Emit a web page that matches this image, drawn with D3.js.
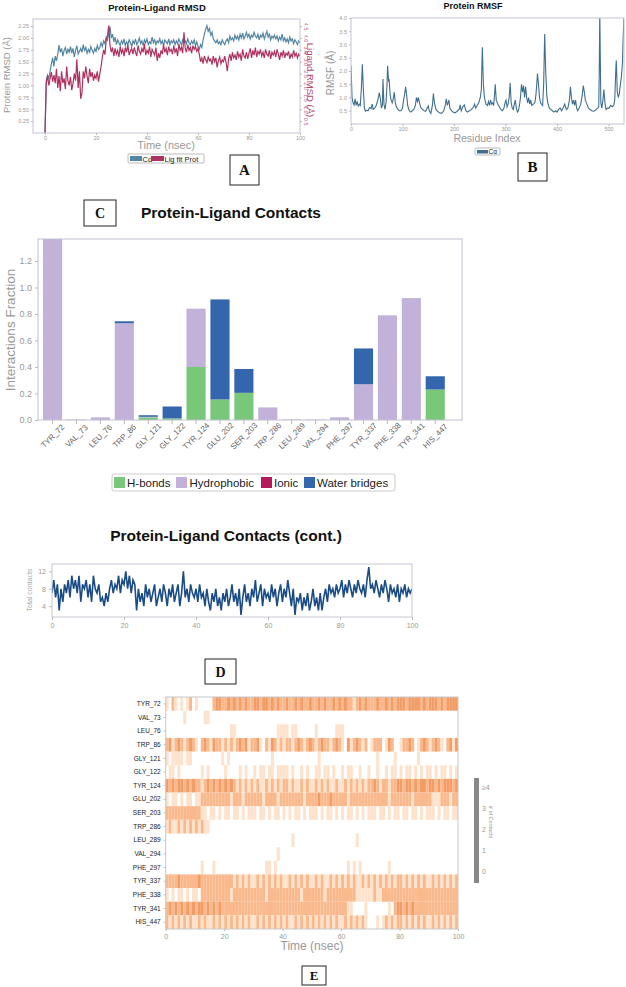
<!DOCTYPE html>
<html><head><meta charset="utf-8">
<script src="https://cdn.jsdelivr.net/npm/d3@7"></script>
<style>body{margin:0;background:#fff}svg{display:block}</style>
</head><body><svg id="c" width="626" height="987" font-family="'Liberation Sans',Arial,sans-serif"></svg>
<script>
// ---------- Panel A: Protein-Ligand RMSD (0.5 ns steps, 0..100 ns) ----------
const rmsdTicksX = [0,20,40,60,80,100];
const rmsdTicksLeft = [0.25,0.5,0.75,1.0,1.25,1.5,1.75,2.0,2.25];
const rmsdTicksRight = [0.5,1.0,1.5,2.0,2.5,3.0,3.5,4.0,4.5];
const calphaRmsd = [
0.00,1.10,1.22,1.15,1.30,1.45,1.58,1.40,1.62,1.52,
1.66,1.85,1.70,1.78,1.62,1.74,1.80,1.66,1.76,1.70,
1.82,1.68,1.78,1.60,1.74,1.84,1.66,1.72,1.78,1.70,
1.86,1.74,1.80,1.68,1.76,1.70,1.82,1.74,1.68,1.78,
1.72,1.84,1.76,1.80,1.90,1.82,1.94,1.88,2.02,1.96,
2.10,2.24,2.00,2.08,1.92,2.02,1.86,1.96,1.90,1.84,
1.94,1.88,1.98,1.84,1.92,1.86,1.96,1.90,1.82,1.94,
1.88,1.98,1.86,1.92,2.00,1.88,1.94,1.84,1.96,1.90,
1.98,1.86,1.92,1.88,2.02,1.90,1.96,1.86,1.94,1.90,
1.98,1.88,1.94,1.84,1.96,1.92,1.88,1.98,1.86,1.94,
1.90,1.96,1.86,1.94,1.88,1.98,1.92,1.86,1.96,1.90,
1.94,1.88,1.98,1.90,1.86,1.94,1.88,1.96,1.84,1.92,
1.82,1.76,1.86,1.80,1.96,2.08,2.18,2.26,2.14,2.20,
2.06,2.12,1.98,1.94,1.90,1.96,1.88,1.92,1.86,1.96,
1.90,1.86,1.94,1.98,1.90,2.04,1.96,2.00,1.94,2.06,
1.98,2.04,1.96,2.08,2.00,2.10,1.98,2.04,2.12,2.02,
2.08,1.98,2.06,2.02,2.12,2.04,2.00,2.08,1.96,2.06,
2.02,2.10,1.98,2.06,2.14,2.02,2.08,1.96,2.04,2.00,
2.06,1.98,2.04,1.94,2.02,1.96,2.08,1.94,2.00,1.92,
1.98,1.90,2.02,1.94,1.98,1.88,1.96,1.92,1.86,1.94,1.90];
const ligandRmsd = [
0.00,2.10,2.40,2.00,2.30,2.56,2.16,2.44,2.10,2.70,
1.90,2.40,1.76,2.60,2.10,2.30,1.84,2.80,2.20,2.00,
2.36,1.80,2.10,2.50,2.20,3.10,1.90,2.60,1.44,1.70,
2.60,2.30,2.80,2.40,2.10,2.70,2.36,2.56,2.20,2.44,
2.30,2.60,2.16,2.50,2.80,3.20,3.50,3.30,3.90,4.10,
4.52,3.70,3.40,3.60,3.24,3.56,3.32,3.48,3.20,3.64,
3.36,3.52,3.24,3.60,3.40,3.72,3.28,3.44,3.56,3.32,
3.60,3.40,3.24,3.68,3.44,3.32,3.56,3.40,3.76,3.28,
3.48,3.36,3.64,3.20,3.52,3.40,3.28,3.60,3.04,3.36,
3.16,3.48,3.32,3.72,3.40,3.56,3.28,3.64,3.44,3.52,
3.32,3.68,3.40,3.56,3.24,3.76,3.48,3.60,3.36,4.24,
3.56,3.40,3.72,3.48,3.60,3.36,3.68,3.52,3.64,3.44,
3.56,3.32,3.00,3.16,2.92,3.24,3.08,2.96,3.20,3.04,
3.12,2.88,3.24,3.00,3.16,2.76,3.04,3.20,2.92,3.08,
3.00,3.24,2.96,2.60,3.12,3.32,3.04,3.40,3.16,3.28,
3.08,3.44,3.20,3.32,3.04,3.52,3.24,3.16,3.40,3.12,
3.36,3.56,3.16,3.48,3.28,3.60,3.20,3.44,3.32,3.52,
3.24,3.40,3.16,3.52,3.32,3.24,3.48,3.12,3.40,3.28,
3.44,3.20,3.52,3.32,3.08,3.40,3.24,3.48,3.16,3.36,
3.28,3.44,3.12,3.32,3.20,3.48,3.24,3.36,3.16,3.32,3.24];

// ---------- Panel B: Protein RMSF [residue, RMSF] ----------
const rmsfTicksX = [0,100,200,300,400,500];
const rmsfTicksY = [0.5,1.0,1.5,2.0,2.5,3.0,3.5,4.0];
const rmsfPoints = [[0,2.2],[2,1.0],[4,0.8],[6,0.72],[8,0.95],[10,0.7],[12,0.85],[14,0.68],[16,0.75],[18,0.7],[20,1.3],[22,2.25],[24,1.3],[26,0.6],[28,0.48],[30,0.52],[33,0.5],[36,0.62],[39,0.58],[41,0.75],[43,0.55],[46,0.6],[49,0.7],[52,0.9],[55,1.18],[57,0.95],[59,0.6],[61,0.7],[62,1.7],[64,0.75],[66,0.55],[68,0.8],[70,1.5],[71,2.2],[73,1.6],[74,1.7],[76,1.1],[78,0.9],[80,0.8],[82,0.95],[84,1.2],[86,0.8],[88,0.65],[91,0.55],[94,0.5],[97,0.5],[100,0.6],[102,0.9],[104,1.1],[106,1.4],[108,1.1],[110,0.7],[113,0.5],[116,0.45],[119,0.5],[122,0.55],[125,0.7],[127,1.0],[129,0.85],[131,1.0],[133,0.8],[136,0.6],[139,0.55],[142,0.5],[145,0.48],[148,0.6],[150,0.68],[152,0.5],[155,0.4],[158,0.7],[160,1.15],[162,0.8],[165,0.55],[168,0.48],[172,0.42],[176,0.4],[180,0.5],[183,0.7],[185,0.95],[187,0.7],[190,0.9],[192,0.6],[195,0.5],[198,0.45],[202,0.42],[206,0.48],[210,0.55],[212,0.72],[214,0.5],[217,0.65],[220,0.72],[223,0.5],[226,0.45],[230,0.5],[234,0.55],[238,0.65],[240,0.75],[242,0.6],[245,0.7],[248,0.8],[251,1.0],[253,1.3],[255,2.9],[257,1.5],[259,1.0],[262,0.75],[265,0.7],[267,0.85],[269,0.7],[271,0.9],[273,0.75],[275,0.8],[277,0.7],[279,1.2],[280,1.5],[282,0.9],[285,0.75],[288,0.65],[291,0.55],[294,0.5],[297,0.6],[299,0.8],[301,0.9],[303,0.65],[305,0.75],[307,1.0],[309,1.55],[311,0.8],[313,0.6],[315,0.55],[317,0.75],[319,0.9],[321,0.6],[323,0.45],[325,0.5],[327,0.7],[329,1.0],[331,1.5],[333,1.2],[335,1.45],[337,1.0],[339,1.4],[341,1.0],[343,0.8],[345,1.0],[347,0.75],[349,0.9],[351,0.7],[354,0.75],[357,0.8],[359,1.1],[361,1.6],[362,1.9],[364,1.5],[366,1.0],[368,0.8],[370,0.75],[372,0.7],[374,1.5],[376,3.4],[378,2.0],[380,1.1],[382,0.8],[385,0.6],[388,0.55],[391,0.5],[394,0.45],[397,0.5],[400,0.45],[403,0.55],[406,0.6],[409,0.5],[412,0.62],[415,0.75],[418,0.55],[421,0.6],[424,0.9],[426,1.4],[428,1.0],[430,0.75],[432,0.9],[434,0.7],[436,0.9],[438,0.6],[440,0.5],[443,0.6],[446,0.75],[449,1.1],[451,1.45],[453,1.2],[455,0.9],[458,0.75],[461,0.6],[464,0.55],[467,0.5],[470,0.48],[473,0.5],[476,0.55],[479,0.6],[481,0.65],[482,2.0],[483,4.3],[484,2.5],[485,0.8],[487,0.6],[489,0.9],[491,1.3],[493,0.8],[495,0.55],[498,0.6],[501,0.6],[504,0.7],[507,0.65],[510,0.7],[512,0.9],[514,2.0],[515,2.4],[517,1.2],[519,1.0],[521,1.15],[523,1.5],[525,1.8],[527,2.3],[528,3.0],[529,3.6],[530,4.3]];

// ---------- Panel C: Protein-Ligand Contacts ----------
const contactResidues = ['TYR_72','VAL_73','LEU_76','TRP_86','GLY_121','GLY_122','TYR_124','GLU_202','SER_203','TRP_286','LEU_289','VAL_294','PHE_297','TYR_337','PHE_338','TYR_341','HIS_447'];
const hBonds       = [0,0,0,0,0.02,0.012,0.40,0.155,0.205,0,0,0,0,0,0,0,0.23];
const hydrophobic  = [1.40,0.004,0.02,0.73,0.004,0,0.44,0,0,0.095,0.004,0.003,0.02,0.27,0.79,0.92,0];
const ionic        = [0,0,0,0,0,0,0,0,0,0,0,0,0,0,0,0,0];
const waterBridges = [0,0,0,0.015,0.012,0.09,0,0.755,0.18,0,0,0,0,0.27,0,0,0.10];
const fractionTicks = [0,0.2,0.4,0.6,0.8,1.0,1.2];
const contactTypes = ['H-bonds','Hydrophobic','Ionic','Water bridges'];
const contactColors = ['#79c879','#c2b1d9','#b5195b','#3466ad'];

// ---------- Panel D: total contacts (0.5 ns steps) ----------
const totalContacts = [
7,10,6,9,3,8,5,9,7,10, 6,11,8,10,7,11,5,9,8,10, 6,9,5,11,8,7,9,5,6,4, 7,5,8,10,7,9,8,11,7,10,
9,12,8,11,7,10,9,3,8,5, 7,4,9,6,8,5,7,9,4,6, 8,5,9,7,4,8,6,9,5,7, 9,4,7,12,6,8,5,9,7,6,
8,5,9,6,7,4,8,5,3,7, 5,8,4,6,3,7,5,8,4,6, 9,5,7,4,8,2,6,9,5,7, 4,8,6,10,5,7,9,4,8,6,
7,5,9,6,8,4,7,9,5,8, 6,10,7,4,8,2,6,5,7,3, 6,4,7,3,5,8,4,6,3,7, 3,6,8,5,9,7,8,6,9,7,
8,10,6,9,7,10,8,6,9,7, 10,8,7,9,6,10,13,8,9,7, 10,8,6,9,7,10,8,5,9,7, 8,6,9,5,8,7,9,6,8,7,8];
const contactTicksY = [4,8,12];
const timeTicks = [0,20,40,60,80,100];

// ---------- Panel E: contacts per residue per ns bin (0..4) ----------
const timelineResidues = ['TYR_72','VAL_73','LEU_76','TRP_86','GLY_121','GLY_122','TYR_124','GLU_202','SER_203','TRP_286','LEU_289','VAL_294','PHE_297','TYR_337','PHE_338','TYR_341','HIS_447'];
const timelineRows = [
"1021010120 1000002332 2323232322 3323323232 2322323223 2232322323 2322123232 2232232323 3323333232 3332323333",
"0000001000 0001100000 0000000000 0000000000 0000000000 0000000000 0000000000 0000000000 0000000000 0000000000",
"0000000000 0000000000 0011000000 0000000011 1101100000 0100000011 1000000000 0000000000 0000000000 0000000000",
"2312321232 1023213221 2121232312 2310213212 1221232123 2123221232 1031232120 1222013200 1223201232 1232102313",
"1011110110 0000000001 0100000000 0000001000 0000000000 0010000000 0000000000 0010000010 0000001000 0000000000",
"0110100000 0010100000 1000010100 1011011011 1101001010 0110110100 1011001001 0010010110 1011010101 1010110101",
"3232332323 2212323232 3232121212 1211212121 2212112121 1212121121 1212121212 2321221223 3233232332 3323233323",
"1011010110 1122222222 2212221222 2221222212 2222222122 2232223222 2212222222 2222221222 2222122222 2111222122",
"2222222222 2211011010 1101101011 1011010110 1010110101 1101011010 1011010101 1101101011 0110110101 1101011011",
"1211212121 2121100000 0000000000 0000000000 0000000000 0000000000 0000000000 0000000000 0000000000 0000000000",
"0000000000 0000000000 0000000000 0000000000 0001000000 0000000000 0000010000 0000000000 0000000000 0000000000",
"0000000000 0000000000 0000000000 0000000010 0000000000 0000000000 0000000000 0000000000 0000000000 0000000000",
"0000000000 0010001000 0000000000 0000110100 0000000000 0000000000 0010101000 0000001000 0000000000 0000000000",
"2222322222 2322222222 2221212121 1212121212 1121212121 1212112121 2121211212 1212121212 2121212121 1212121212",
"1010110101 1022222222 2212222222 2222122222 2222221222 2222122222 2222211111 1211222222 2222222222 2222222222",
"2323232323 2332323232 2222222222 2222222222 2222222222 2222222222 2211000010 0000001023 3232322222 2222222222",
"2121212121 1212112121 2121212121 1212121212 1211212121 2121212121 1212121210 0010121212 2121212121 1212121212"];
const heatColors = ['#ffffff','#fee2cb','#f9b98c','#f39c65','#e8743b'];
const colorbarLabels = ['0','1','2','3','≥4'];

// =====================================================================
const svg = d3.select('#c');
svg.append('rect').attr('width',626).attr('height',987).attr('fill','#fff');
function styleAxis(g, fs, col){
  g.selectAll('path').attr('stroke','#bbb');
  g.selectAll('line').attr('stroke','#bbb');
  g.selectAll('text').attr('fill',col||'#999').attr('font-size',fs).attr('font-family',null);
  g.attr('font-family',null).attr('font-size',null);
}
function frame(x0,y0,x1,y1,col){
  svg.append('rect').attr('x',x0).attr('y',y0).attr('width',x1-x0).attr('height',y1-y0)
    .attr('fill','none').attr('stroke',col||'#c4c4d4').attr('stroke-width',1);
}
function box(x,y,w,h,letter,fs){
  svg.append('rect').attr('x',x).attr('y',y).attr('width',w).attr('height',h).attr('fill','#fff').attr('stroke','#222').attr('stroke-width',1);
  svg.append('text').attr('x',x+w/2).attr('y',y+h/2).attr('dy','0.36em').attr('text-anchor','middle')
    .style('font-family',"'Liberation Serif','DejaVu Serif',serif").attr('font-weight','bold').attr('font-size',fs).attr('fill','#111').text(letter);
}
function clip(id,x0,y0,x1,y1){
  svg.append('clipPath').attr('id',id).append('rect').attr('x',x0).attr('y',y0).attr('width',x1-x0).attr('height',y1-y0);
}

// ---------------- Panel A ----------------
{
  const x0=33,x1=300,y0=19,y1=133;
  const x = d3.scaleLinear([-4.7,100],[x0,x1]);
  const y = d3.scaleLinear([0,2.4],[y1,y0]);
  const y2 = d3.scaleLinear([0,4.8],[y1,y0]);
  svg.append('text').attr('x',157).attr('y',11).attr('text-anchor','middle').attr('font-weight','bold').attr('font-size',9.5).attr('fill','#111').text('Protein-Ligand RMSD');
  clip('clipA',x0,y0,x1,y1);
  const tA = i=> i*100/(calphaRmsd.length-1);
  const g = svg.append('g').attr('clip-path','url(#clipA)');
  g.append('path').datum(calphaRmsd).attr('fill','none').attr('stroke','#5486a2').attr('stroke-width',1.2)
    .attr('d',d3.line().x((d,i)=>x(tA(i))).y(d=>y(d)));
  const tL = i=> i*100/(ligandRmsd.length-1);
  g.append('path').datum(ligandRmsd).attr('fill','none').attr('stroke','#ad3260').attr('stroke-width',1.2)
    .attr('d',d3.line().x((d,i)=>x(tL(i))).y(d=>y2(d)));
  frame(x0,y0,x1,y1);
  const ax = svg.append('g').attr('transform',`translate(0,${y1})`).call(d3.axisBottom(x).tickValues(rmsdTicksX).tickSize(2).tickPadding(1).tickFormat(d3.format('d')));
  ax.select('.domain').remove(); styleAxis(ax,5.5);
  const ay = svg.append('g').attr('transform',`translate(${x0},0)`).call(d3.axisLeft(y).tickValues(rmsdTicksLeft).tickSize(2).tickPadding(2).tickFormat(d3.format('.2f')));
  ay.select('.domain').remove(); styleAxis(ay,5.5);
  const ay2 = svg.append('g').attr('transform',`translate(${x1},0)`).call(d3.axisRight(y2).tickValues(rmsdTicksRight).tickSize(2).tickFormat(d3.format('.1f')));
  ay2.select('.domain').remove(); styleAxis(ay2,5.5,'#c0607f');
  ay2.selectAll('text').attr('text-anchor','middle').attr('x',0).attr('dy',0).attr('transform','translate(3.5,0) rotate(90)');
  svg.append('text').attr('transform','translate(10,75) rotate(-90)').attr('text-anchor','middle').attr('font-size',9.5).attr('fill','#999').text('Protein RMSD (Å)');
  svg.append('text').attr('transform','translate(306.5,80) rotate(90)').attr('text-anchor','middle').attr('font-size',9.5).attr('fill','#b2476c').text('Ligand RMSD (Å)');
  svg.append('text').attr('x',166).attr('y',149).attr('text-anchor','middle').attr('font-size',11).attr('fill','#999').text('Time (nsec)');
  // legend
  svg.append('rect').attr('x',128).attr('y',154).attr('width',76).attr('height',9).attr('rx',1).attr('fill','#fff').attr('stroke','#aaa').attr('stroke-width',0.8);
  svg.append('rect').attr('x',130).attr('y',156).attr('width',12).attr('height',5).attr('fill','#5486a2');
  svg.append('text').attr('x',142.5).attr('y',161.5).attr('font-size',7.5).attr('fill','#222').text('Cα');
  svg.append('rect').attr('x',151).attr('y',156).attr('width',13).attr('height',5).attr('fill','#ad3260');
  svg.append('text').attr('x',164.5).attr('y',161.5).attr('font-size',7.5).attr('fill','#222').text('Lig fit Prot');
  box(230,155,29,30,'A',15);
}

// ---------------- Panel B ----------------
{
  const x0=351,x1=624,y0=18,y1=124;
  const x = d3.scaleLinear([0,530],[x0,x1]);
  const y = d3.scaleLinear([0,4],[y1,y0]);
  svg.append('text').attr('x',473).attr('y',8.5).attr('text-anchor','middle').attr('font-weight','bold').attr('font-size',9).attr('fill','#111').text('Protein RMSF');
  clip('clipB',x0,y0,x1,y1);
  svg.append('g').attr('clip-path','url(#clipB)').append('path').datum(rmsfPoints).attr('fill','none').attr('stroke','#3f6f8e').attr('stroke-width',1.1)
    .attr('d',d3.line().x(d=>x(d[0])).y(d=>y(d[1])));
  frame(x0,y0,x1,y1);
  const ax = svg.append('g').attr('transform',`translate(0,${y1})`).call(d3.axisBottom(x).tickValues(rmsfTicksX).tickSize(2).tickPadding(1).tickFormat(d3.format('d')));
  ax.select('.domain').remove(); styleAxis(ax,5.5);
  const ay = svg.append('g').attr('transform',`translate(${x0},0)`).call(d3.axisLeft(y).tickValues(rmsfTicksY).tickSize(2).tickPadding(2).tickFormat(d3.format('.1f')));
  ay.select('.domain').remove(); styleAxis(ay,5.5);
  svg.append('text').attr('transform','translate(334,73) rotate(-90)').attr('text-anchor','middle').attr('font-size',10).attr('fill','#999').text('RMSF (Å)');
  svg.append('text').attr('x',487).attr('y',141.5).attr('text-anchor','middle').attr('font-size',10.5).attr('fill','#999').text('Residue Index');
  svg.append('rect').attr('x',475).attr('y',148).attr('width',25).attr('height',7).attr('rx',1).attr('fill','#fff').attr('stroke','#aaa').attr('stroke-width',0.8);
  svg.append('rect').attr('x',477).attr('y',150).attr('width',11).attr('height',3.5).attr('fill','#3f6f8e');
  svg.append('text').attr('x',488.5).attr('y',154).attr('font-size',6.5).attr('fill','#222').text('Cα');
  box(518,153,29,28,'B',15);
}

// ---------------- Panel C ----------------
{
  const x0=38,x1=462,y0=239,y1=420;
  box(84,200,32,26,'C',14);
  svg.append('text').attr('x',231).attr('y',218).attr('text-anchor','middle').attr('font-weight','bold').attr('font-size',15.5).attr('fill','#111').text('Protein-Ligand Contacts');
  const x = d3.scaleBand(contactResidues,[40.6,447.2]).paddingInner(0.2).paddingOuter(0.1);
  const y = d3.scaleLinear([0,1.366],[y1,y0]);
  const rows = contactResidues.map((r,i)=>({res:r,'H-bonds':hBonds[i],'Hydrophobic':hydrophobic[i],'Ionic':ionic[i],'Water bridges':waterBridges[i]}));
  const stacked = d3.stack().keys(contactTypes)(rows);
  clip('clipC',x0,y0,x1,y1);
  const g = svg.append('g').attr('clip-path','url(#clipC)');
  stacked.forEach((layer,k)=>{
    g.selectAll(null).data(layer).join('rect')
      .attr('x',d=>x(d.data.res)).attr('width',x.bandwidth())
      .attr('y',d=>y(d[1])).attr('height',d=>Math.max(0,y(d[0])-y(d[1])))
      .attr('fill',contactColors[k]);
  });
  frame(x0,y0,x1,y1,'#c0c0d0');
  const ay = svg.append('g').attr('transform',`translate(${x0},0)`).call(d3.axisLeft(y).tickValues(fractionTicks).tickSize(3).tickFormat(d3.format('.1f')));
  ay.select('.domain').remove(); styleAxis(ay,9);
  const ax = svg.append('g').attr('transform',`translate(0,${y1})`).call(d3.axisBottom(x).tickSize(4));
  ax.select('.domain').remove(); styleAxis(ax,8,'#666');
  ax.selectAll('text').attr('text-anchor','middle').attr('dy',0).attr('y',0).attr('transform','translate(2,18) rotate(-45)');
  svg.append('text').attr('transform','translate(15,330) rotate(-90)').attr('text-anchor','middle').attr('font-size',13.5).attr('fill','#999').text('Interactions Fraction');
  // legend
  svg.append('rect').attr('x',112).attr('y',474).attr('width',283).attr('height',17).attr('rx',2).attr('fill','#fff').attr('stroke','#ccc');
  const lx = [114,176,261,304], tx=[127,189.5,274,317];
  contactTypes.forEach((t,i)=>{
    svg.append('rect').attr('x',lx[i]).attr('y',477).attr('width',11).attr('height',11).attr('fill',contactColors[i]);
    svg.append('text').attr('x',tx[i]).attr('y',487).attr('font-size',11.5).attr('fill','#222').text(t);
  });
}

// ---------------- Panel D ----------------
{
  const x0=52,x1=412,y0=564,y1=617;
  svg.append('text').attr('x',226).attr('y',541).attr('text-anchor','middle').attr('font-weight','bold').attr('font-size',15.5).attr('fill','#111').text('Protein-Ligand Contacts (cont.)');
  const x = d3.scaleLinear([0,100],[x0,x1]);
  const y = d3.scaleLinear([1.5,13.7],[y1,y0]);
  clip('clipD',x0,y0,x1,y1);
  const t = i=> i*100/(totalContacts.length-1);
  svg.append('g').attr('clip-path','url(#clipD)').append('path').datum(totalContacts).attr('fill','none').attr('stroke','#1b4c86').attr('stroke-width',1.6)
    .attr('d',d3.line().x((d,i)=>x(t(i))).y(d=>y(d)));
  frame(x0,y0,x1,y1,'#c8c8d4');
  const ax = svg.append('g').attr('transform',`translate(0,${y1})`).call(d3.axisBottom(x).tickValues(timeTicks).tickSize(3).tickFormat(d3.format('d')));
  ax.select('.domain').remove(); styleAxis(ax,7);
  const ay = svg.append('g').attr('transform',`translate(${x0},0)`).call(d3.axisLeft(y).tickValues(contactTicksY).tickSize(3));
  ay.select('.domain').remove(); styleAxis(ay,7);
  svg.append('text').attr('transform','translate(32,590) rotate(-90)').attr('text-anchor','middle').attr('font-size',7).attr('fill','#aaa').text('Total contacts');
  box(205,659,31,25,'D',14);
}

// ---------------- Panel E ----------------
{
  const x0=165.7,x1=458,y0=697,y1=929;
  const x = d3.scaleLinear([0,100],[x0,x1]);
  const y = d3.scaleBand(timelineResidues,[y0,y1]);
  const cells = [];
  timelineRows.forEach((s,r)=>{
    const v = s.replace(/ /g,'');
    for(let i=0;i<v.length;i++){ const c=+v[i]; if(c>0) cells.push({res:timelineResidues[r],i,c,n:v.length}); }
  });
  svg.append('g').selectAll('rect').data(cells).join('rect')
    .attr('x',d=>x(d.i*100/d.n)).attr('width',d=>x((d.i+1)*100/d.n)-x(d.i*100/d.n)+0.05)
    .attr('y',d=>y(d.res)).attr('height',y.bandwidth())
    .attr('fill',d=>heatColors[d.c]);
  frame(x0,y0,x1,y1,'#c8c8c8');
  const ay = svg.append('g').attr('transform',`translate(${x0},0)`).call(d3.axisLeft(y).tickSize(2));
  ay.select('.domain').remove(); styleAxis(ay,6.5,'#222');
  const ax = svg.append('g').attr('transform',`translate(0,${y1})`).call(d3.axisBottom(x).tickValues(timeTicks).tickSize(2).tickFormat(d3.format('d')));
  ax.select('.domain').remove(); styleAxis(ax,7);
  svg.append('text').attr('x',312).attr('y',950).attr('text-anchor','middle').attr('font-size',12).attr('fill','#999').text('Time (nsec)');
  // colorbar
  svg.append('rect').attr('x',474).attr('y',778).attr('width',5).attr('height',105).attr('fill','#888');
  const cy = d3.scaleLinear([0,4],[872,788]);
  colorbarLabels.forEach((l,i)=>{
    svg.append('text').attr('x',482).attr('y',cy(i)).attr('dy','0.35em').attr('font-size',7).attr('fill','#999').text(l);
  });
  svg.append('text').attr('transform','translate(489,822) rotate(90)').attr('text-anchor','middle').attr('font-size',5.5).attr('fill','#999').text('# of Contacts');
  box(302,966,24,19,'E',13);
}
</script></body></html>
